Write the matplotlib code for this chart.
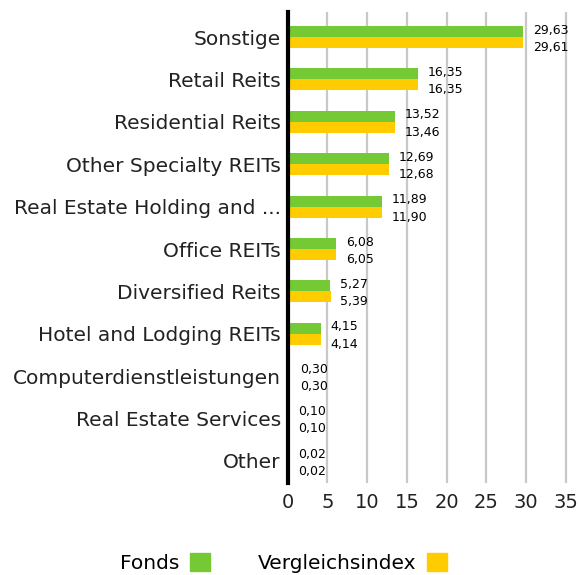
import matplotlib.pyplot as plt
import numpy as np
from matplotlib.patches import Patch

categories = ['Sonstige', 'Retail Reits', 'Residential Reits', 'Other Specialty REITs',
              'Real Estate Holding and ...', 'Office REITs', 'Diversified Reits',
              'Hotel and Lodging REITs', 'Computerdienstleistungen',
              'Real Estate Services', 'Other']
fonds = [29.63, 16.35, 13.52, 12.69, 11.89, 6.08, 5.27, 4.15, 0.30, 0.10, 0.02]
index = [29.61, 16.35, 13.46, 12.68, 11.90, 6.05, 5.39, 4.14, 0.30, 0.10, 0.02]
xticks = [0, 5, 10, 15, 20, 25, 30, 35]

green = '#74c935'
yellow = '#ffcc00'

plt.rcParams['font.family'] = 'DejaVu Sans'
fig = plt.figure(figsize=(5.79, 5.75), dpi=100)
ax = fig.add_axes([0.497, 0.16, 0.494, 0.819])

y = np.arange(len(categories))
h = 0.26
ax.barh(y - h / 2, fonds, height=h, color=green, zorder=3)
ax.barh(y + h / 2, index, height=h, color=yellow, zorder=3)

fmt = lambda v: f'{v:.2f}'.replace('.', ',')
for i in range(len(categories)):
    ax.annotate(fmt(fonds[i]), (max(fonds[i], index[i]), y[i]), xytext=(7, 5),
                textcoords='offset points', va='center', ha='left', fontsize=9, zorder=4)
    ax.annotate(fmt(index[i]), (max(fonds[i], index[i]), y[i]), xytext=(7, -7.5),
                textcoords='offset points', va='center', ha='left', fontsize=9, zorder=4)

ax.set_xlim(0, 36)
ax.set_ylim(10.52, -0.59)
ax.set_yticks(y)
ax.set_yticklabels(categories, fontsize=14.5, color='#222222')
ax.set_xticks(xticks)
ax.set_xticklabels([str(t) for t in xticks], fontsize=14, color='#222222')
ax.tick_params(axis='both', length=0)
ax.tick_params(axis='y', pad=5)
ax.tick_params(axis='x', pad=7)

ax.grid(axis='x', color='#c8c8c8', linewidth=1.6, zorder=0)
ax.set_axisbelow(True)
for s in ['top', 'right', 'bottom']:
    ax.spines[s].set_visible(False)
ax.spines['left'].set_linewidth(3)
ax.spines['left'].set_color('black')
ax.spines['left'].set_zorder(5)

handles = [Patch(color=green, label='Fonds'), Patch(color=yellow, label='Vergleichsindex')]
fig.legend(handles=handles, loc='lower center', bbox_to_anchor=(0.49, -0.028), ncol=2,
           frameon=False, markerfirst=False, fontsize=14.5, handlelength=1.0,
           handleheight=1.0, columnspacing=2.4, handletextpad=0.5)

fig.savefig('out.png', dpi=100)
